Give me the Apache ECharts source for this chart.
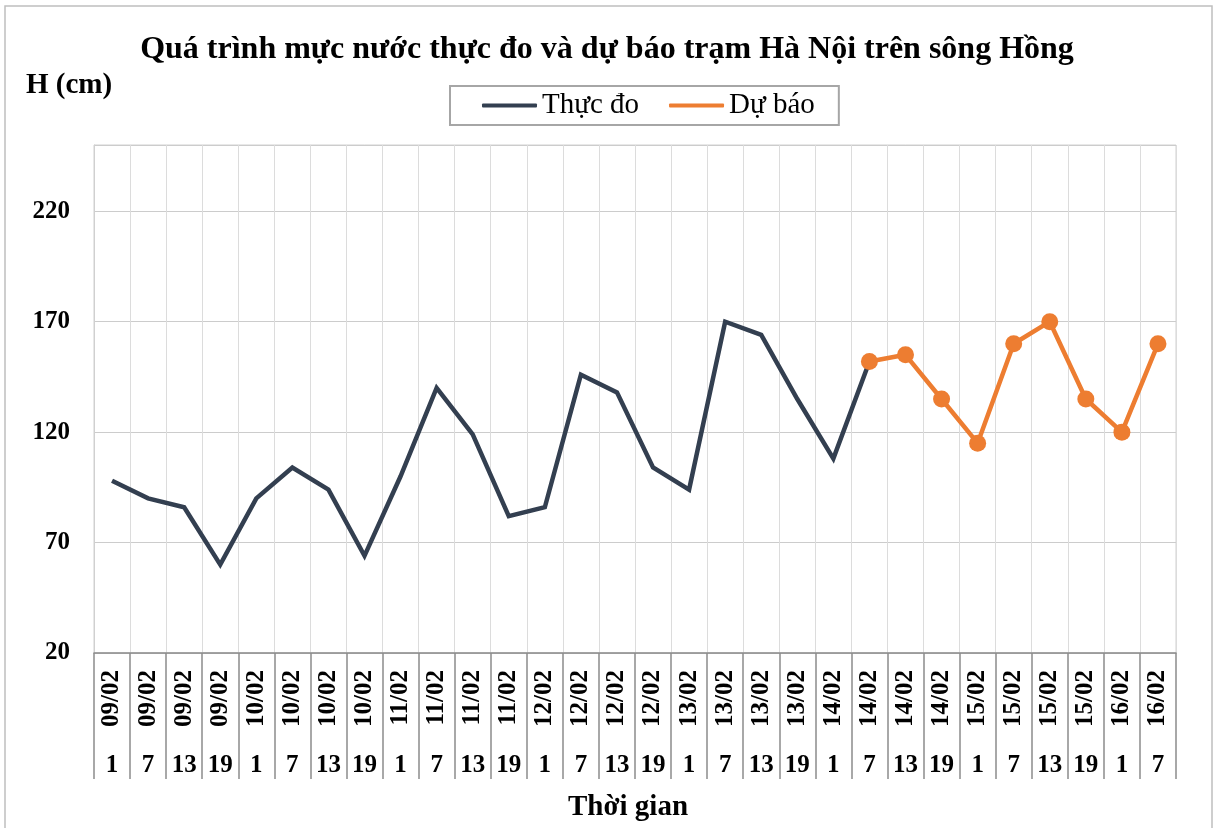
<!DOCTYPE html>
<html>
<head>
<meta charset="utf-8">
<script src="https://cdn.jsdelivr.net/npm/echarts@6/dist/echarts.min.js"></script>
<style>
html,body{margin:0;padding:0;background:#fff;}
#chart{width:1214px;height:828px;}
</style>
</head>
<body>
<div id="chart"></div>
<script>
var dates = ['09/02','09/02','09/02','09/02','10/02','10/02','10/02','10/02','11/02','11/02','11/02','11/02','12/02','12/02','12/02','12/02','13/02','13/02','13/02','13/02','14/02','14/02','14/02','14/02','15/02','15/02','15/02','15/02','16/02','16/02'];
var hours = ['1','7','13','19','1','7','13','19','1','7','13','19','1','7','13','19','1','7','13','19','1','7','13','19','1','7','13','19','1','7'];
var observed = [98,90,86,60,90,104,94,64,100,140,119,82,86,146,138,104,94,170,164,135,108,152,null,null,null,null,null,null,null,null];
var forecast = [null,null,null,null,null,null,null,null,null,null,null,null,null,null,null,null,null,null,null,null,null,152,155,135,115,160,170,135,120,160];
var yTicks = [20,70,120,170,220];

var FONT = "'Liberation Serif','Times New Roman',serif";
var chart = echarts.init(document.getElementById('chart'));
chart.setOption({
  backgroundColor: '#fff',
  animation: false,
  title: {
    text: 'Quá trình mực nước thực đo và dự báo trạm Hà Nội trên sông Hồng',
    left: 'center', top: 29,
    textStyle: {fontFamily: FONT, fontSize: 32, fontWeight: 'bold', color: '#000'}
  },
  graphic: [
    {type: 'rect', shape: {x: 5, y: 6, width: 1207, height: 840}, style: {fill: 'none', stroke: '#bfbfbf', lineWidth: 1.5}, silent: true},
    {type: 'text', left: 26, top: 71, style: {text: 'H (cm)', font: 'bold 29px ' + FONT, fill: '#000'}},
    {type: 'text', left: 568, top: 793, style: {text: 'Thời gian', font: 'bold 29px ' + FONT, fill: '#000'}}
  ],
  legend: {
    left: 450, top: 86,
    padding: [5, 24, 5, 32],
    itemGap: 30,
    itemWidth: 55, itemHeight: 4,
    borderColor: '#a6a6a6', borderWidth: 2,
    textStyle: {fontFamily: FONT, fontSize: 29, color: '#000'},
    data: [
      {name: 'Thực đo', icon: 'roundRect'},
      {name: 'Dự báo', icon: 'roundRect'}
    ]
  },
  grid: {left: 94, right: 38, top: 145, bottom: 175, show: true, borderColor: '#d0d0d0', borderWidth: 1},
  xAxis: [
    {
      type: 'category', data: dates, boundaryGap: true, position: 'bottom',
      axisLine: {show: true, lineStyle: {color: '#8c8c8c', width: 1.5}},
      axisTick: {show: true, interval: 0, length: 126, lineStyle: {color: '#8c8c8c', width: 1.5}},
      axisLabel: {interval: 0, rotate: 90, margin: 17, fontFamily: FONT, fontSize: 25, fontWeight: 'bold', color: '#000'},
      splitLine: {show: true, interval: 0, lineStyle: {color: '#dcdcdc', width: 1}}
    },
    {
      type: 'category', data: hours, boundaryGap: true, position: 'bottom', gridIndex: 0,
      axisLine: {show: false}, axisTick: {show: false}, splitLine: {show: false},
      axisLabel: {interval: 0, margin: 100, fontFamily: FONT, fontSize: 25, fontWeight: 'bold', color: '#000'}
    }
  ],
  yAxis: {
    type: 'value', min: 20, max: 250, interval: 50,
    axisLine: {show: true, lineStyle: {color: '#d0d0d0'}},
    axisTick: {show: false},
    axisLabel: {margin: 24, fontFamily: FONT, fontSize: 25, fontWeight: 'bold', color: '#000',
      showMaxLabel: false,
      formatter: function (v) { return yTicks.indexOf(v) >= 0 ? String(v) : ''; }},
    splitLine: {show: true, lineStyle: {color: '#cccccc', width: 1.2}}
  },
  series: [
    {
      name: 'Thực đo', type: 'line', xAxisIndex: 0, data: observed,
      symbol: 'none', showSymbol: false, connectNulls: false,
      itemStyle: {color: '#333f50'},
      lineStyle: {color: '#333f50', width: 4.5, join: 'miter'}
    },
    {
      name: 'Dự báo', type: 'line', xAxisIndex: 0, data: forecast,
      symbol: 'circle', symbolSize: 17, showSymbol: true,
      itemStyle: {color: '#ed7d31'},
      lineStyle: {color: '#ed7d31', width: 4.5}
    }
  ]
});
</script>
</body>
</html>
